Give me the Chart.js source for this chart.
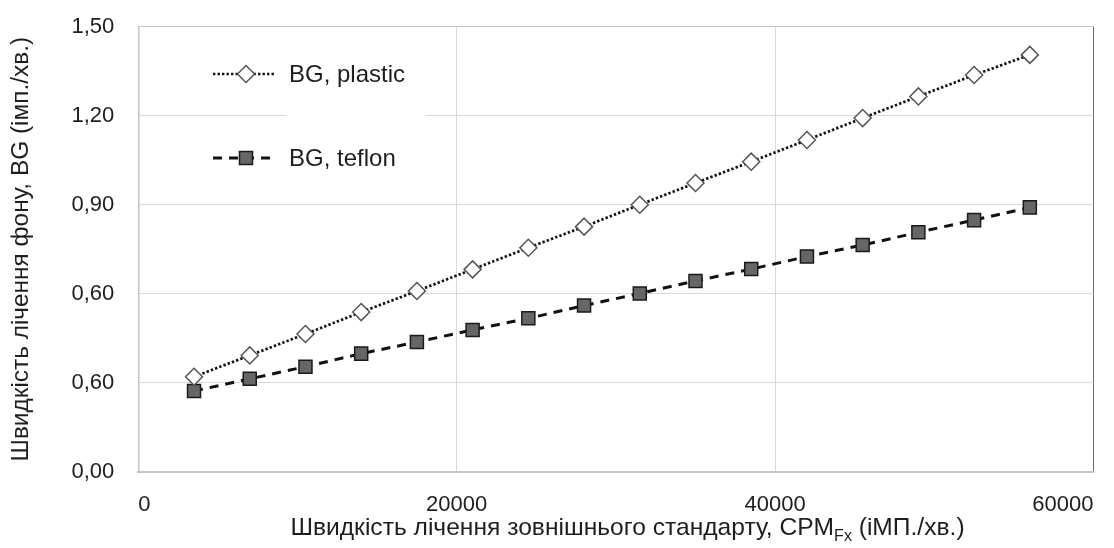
<!DOCTYPE html>
<html>
<head>
<meta charset="utf-8">
<script src="https://cdn.jsdelivr.net/npm/chart.js@4/dist/chart.umd.min.js"></script>
<style>
  html, body { margin: 0; padding: 0; background: #fff; }
  #wrap { width: 1114px; height: 548px; position: relative; }
</style>
</head>
<body>
<div id="wrap"><canvas id="c"></canvas></div>
<script>
// Count rate of the external standard, CPM_Fx (imp./min)
const countRates = [3500, 7000, 10500, 14000, 17500, 21000, 24500, 28000,
                    31500, 35000, 38500, 42000, 45500, 49000, 52500, 56000];
// Background count rate, plastic vials
const bgPlastic = [0.320, 0.392, 0.464, 0.538, 0.609, 0.682, 0.755, 0.826,
                   0.900, 0.973, 1.045, 1.118, 1.192, 1.265, 1.337, 1.405];
// Background count rate, teflon vials
const bgTeflon = [0.272, 0.313, 0.354, 0.398, 0.437, 0.478, 0.517, 0.560,
                  0.601, 0.643, 0.683, 0.725, 0.764, 0.807, 0.848, 0.891];

const xTickValues = [0, 20000, 40000, 60000];
const yTickValues = [0, 0.3, 0.6, 0.9, 1.2, 1.5];
const yTickLabels = ['0,00', '0,60', '0,60', '0,90', '1,20', '1,50'];
const seriesNames = ['BG, plastic', 'BG, teflon'];
const yTitle = 'Швидкість лічення фону, BG (імп./хв.)';
const xTitleMain = 'Швидкість лічення зовнішнього стандарту, CPM';
const xTitleSub = 'Fx';
const xTitleTail = ' (іМП./хв.)';

const FONT = '"Liberation Sans", Arial, Helvetica, sans-serif';
const INK = '#1e1e1e';

const plasticStyle = { dash: [2.4, 2.1], lineWidth: 2.7, marker: 'diamond', r: 8.5, fill: '#ffffff', stroke: '#555555' };
const teflonStyle  = { dash: [9, 7], lineWidth: 3, marker: 'square', r: 9.2, fill: '#666666', stroke: '#1a1a1a' };

function drawMarker(ctx, style, x, y) {
  ctx.save();
  ctx.setLineDash([]);
  ctx.lineWidth = 1.5;
  ctx.fillStyle = style.fill;
  ctx.strokeStyle = style.stroke;
  ctx.beginPath();
  if (style.marker === 'diamond') {
    ctx.moveTo(x - style.r, y);
    ctx.lineTo(x, y - style.r);
    ctx.lineTo(x + style.r, y);
    ctx.lineTo(x, y + style.r);
    ctx.closePath();
  } else {
    const h = style.r * Math.SQRT1_2;
    ctx.rect(x - h, y - h, 2 * h, 2 * h);
  }
  ctx.fill();
  ctx.stroke();
  ctx.restore();
}

// In-plot legend with a white backing box and the x-axis title with subscript
const decorations = {
  id: 'decorations',
  afterDraw(chart) {
    const ctx = chart.ctx;
    ctx.save();
    // legend backing
    ctx.fillStyle = '#ffffff';
    ctx.fillRect(286, 50, 140, 130);

    const entries = [
      { name: seriesNames[0], style: plasticStyle, y: 74 },
      { name: seriesNames[1], style: teflonStyle, y: 158 }
    ];
    entries.forEach(e => {
      ctx.save();
      ctx.strokeStyle = '#111';
      ctx.lineWidth = e.style.lineWidth;
      ctx.setLineDash(e.style.dash);
      ctx.beginPath();
      ctx.moveTo(213, e.y);
      ctx.lineTo(276, e.y);
      ctx.stroke();
      ctx.restore();
      drawMarker(ctx, e.style, 246, e.y);
      ctx.fillStyle = INK;
      ctx.font = '24px ' + FONT;
      ctx.textAlign = 'left';
      ctx.textBaseline = 'middle';
      ctx.fillText(e.name, 289, e.y + 1);
    });

    // x-axis title
    const bigFont = '24.6px ' + FONT;
    const subFont = '16px ' + FONT;
    ctx.font = bigFont;
    const w1 = ctx.measureText(xTitleMain).width;
    const w3 = ctx.measureText(xTitleTail).width;
    ctx.font = subFont;
    const w2 = ctx.measureText(xTitleSub).width;
    const total = w1 + w2 + w3;
    let x = 627.5 - total / 2;
    const base = 535;
    ctx.fillStyle = INK;
    ctx.textAlign = 'left';
    ctx.textBaseline = 'alphabetic';
    ctx.font = bigFont;
    ctx.fillText(xTitleMain, x, base);
    x += w1;
    ctx.font = subFont;
    ctx.fillText(xTitleSub, x, base + 6);
    x += w2;
    ctx.font = bigFont;
    ctx.fillText(xTitleTail, x, base);
    ctx.restore();
  }
};

new Chart(document.getElementById('c'), {
  type: 'line',
  data: {
    datasets: [
      {
        label: seriesNames[0],
        data: countRates.map((x, i) => ({ x, y: bgPlastic[i] })),
        borderColor: '#111',
        borderWidth: plasticStyle.lineWidth,
        borderDash: plasticStyle.dash,
        pointStyle: 'rectRot',
        pointRadius: plasticStyle.r,
        pointBackgroundColor: plasticStyle.fill,
        pointBorderColor: plasticStyle.stroke,
        pointBorderWidth: 1.5,
        tension: 0
      },
      {
        label: seriesNames[1],
        data: countRates.map((x, i) => ({ x, y: bgTeflon[i] })),
        borderColor: '#111',
        borderWidth: teflonStyle.lineWidth,
        borderDash: teflonStyle.dash,
        pointStyle: 'rect',
        pointRadius: teflonStyle.r,
        pointBackgroundColor: teflonStyle.fill,
        pointBorderColor: teflonStyle.stroke,
        pointBorderWidth: 1.5,
        tension: 0
      }
    ]
  },
  options: {
    responsive: true,
    maintainAspectRatio: false,
    animation: false,
    events: [],
    layout: { padding: { top: 26.7, right: 20.5, left: 0, bottom: 0 } },
    plugins: { legend: { display: false }, tooltip: { enabled: false } },
    scales: {
      x: {
        type: 'linear',
        min: 0,
        max: 60000,
        afterBuildTicks: s => { s.ticks = xTickValues.map(v => ({ value: v })); },
        afterFit: s => { s.height = 76.3; s.paddingLeft = 0; s.paddingRight = 0; },
        grid: {
          drawTicks: false,
          color: ctx => (ctx.tick && ctx.tick.value === 60000) ? '#6a6a6a' : '#d9d9d9',
          lineWidth: 1
        },
        border: { color: '#c4c4c4', width: 2 },
        ticks: {
          align: 'inner',
          padding: 20,
          color: INK,
          font: { family: FONT, size: 22 },
          maxRotation: 0,
          callback: v => String(v)
        },
        title: { display: false }
      },
      y: {
        type: 'linear',
        min: 0,
        max: 1.5,
        afterBuildTicks: s => { s.ticks = yTickValues.map(v => ({ value: v })); },
        afterFit: s => { s.width = 138.3; s.paddingTop = 0; s.paddingBottom = 0; },
        grid: {
          drawTicks: false,
          color: ctx => (ctx.tick && ctx.tick.value === 1.5) ? '#c4c4c4' : '#d9d9d9',
          lineWidth: 1
        },
        border: { color: '#c4c4c4', width: 1.5 },
        ticks: {
          padding: 24,
          color: INK,
          font: { family: FONT, size: 22 },
          callback: (v, i) => yTickLabels[i]
        },
        title: {
          display: true,
          text: yTitle,
          color: INK,
          font: { family: FONT, size: 24.4 },
          padding: { top: 7, bottom: 0 }
        }
      }
    }
  },
  plugins: [decorations]
});
</script>
</body>
</html>
